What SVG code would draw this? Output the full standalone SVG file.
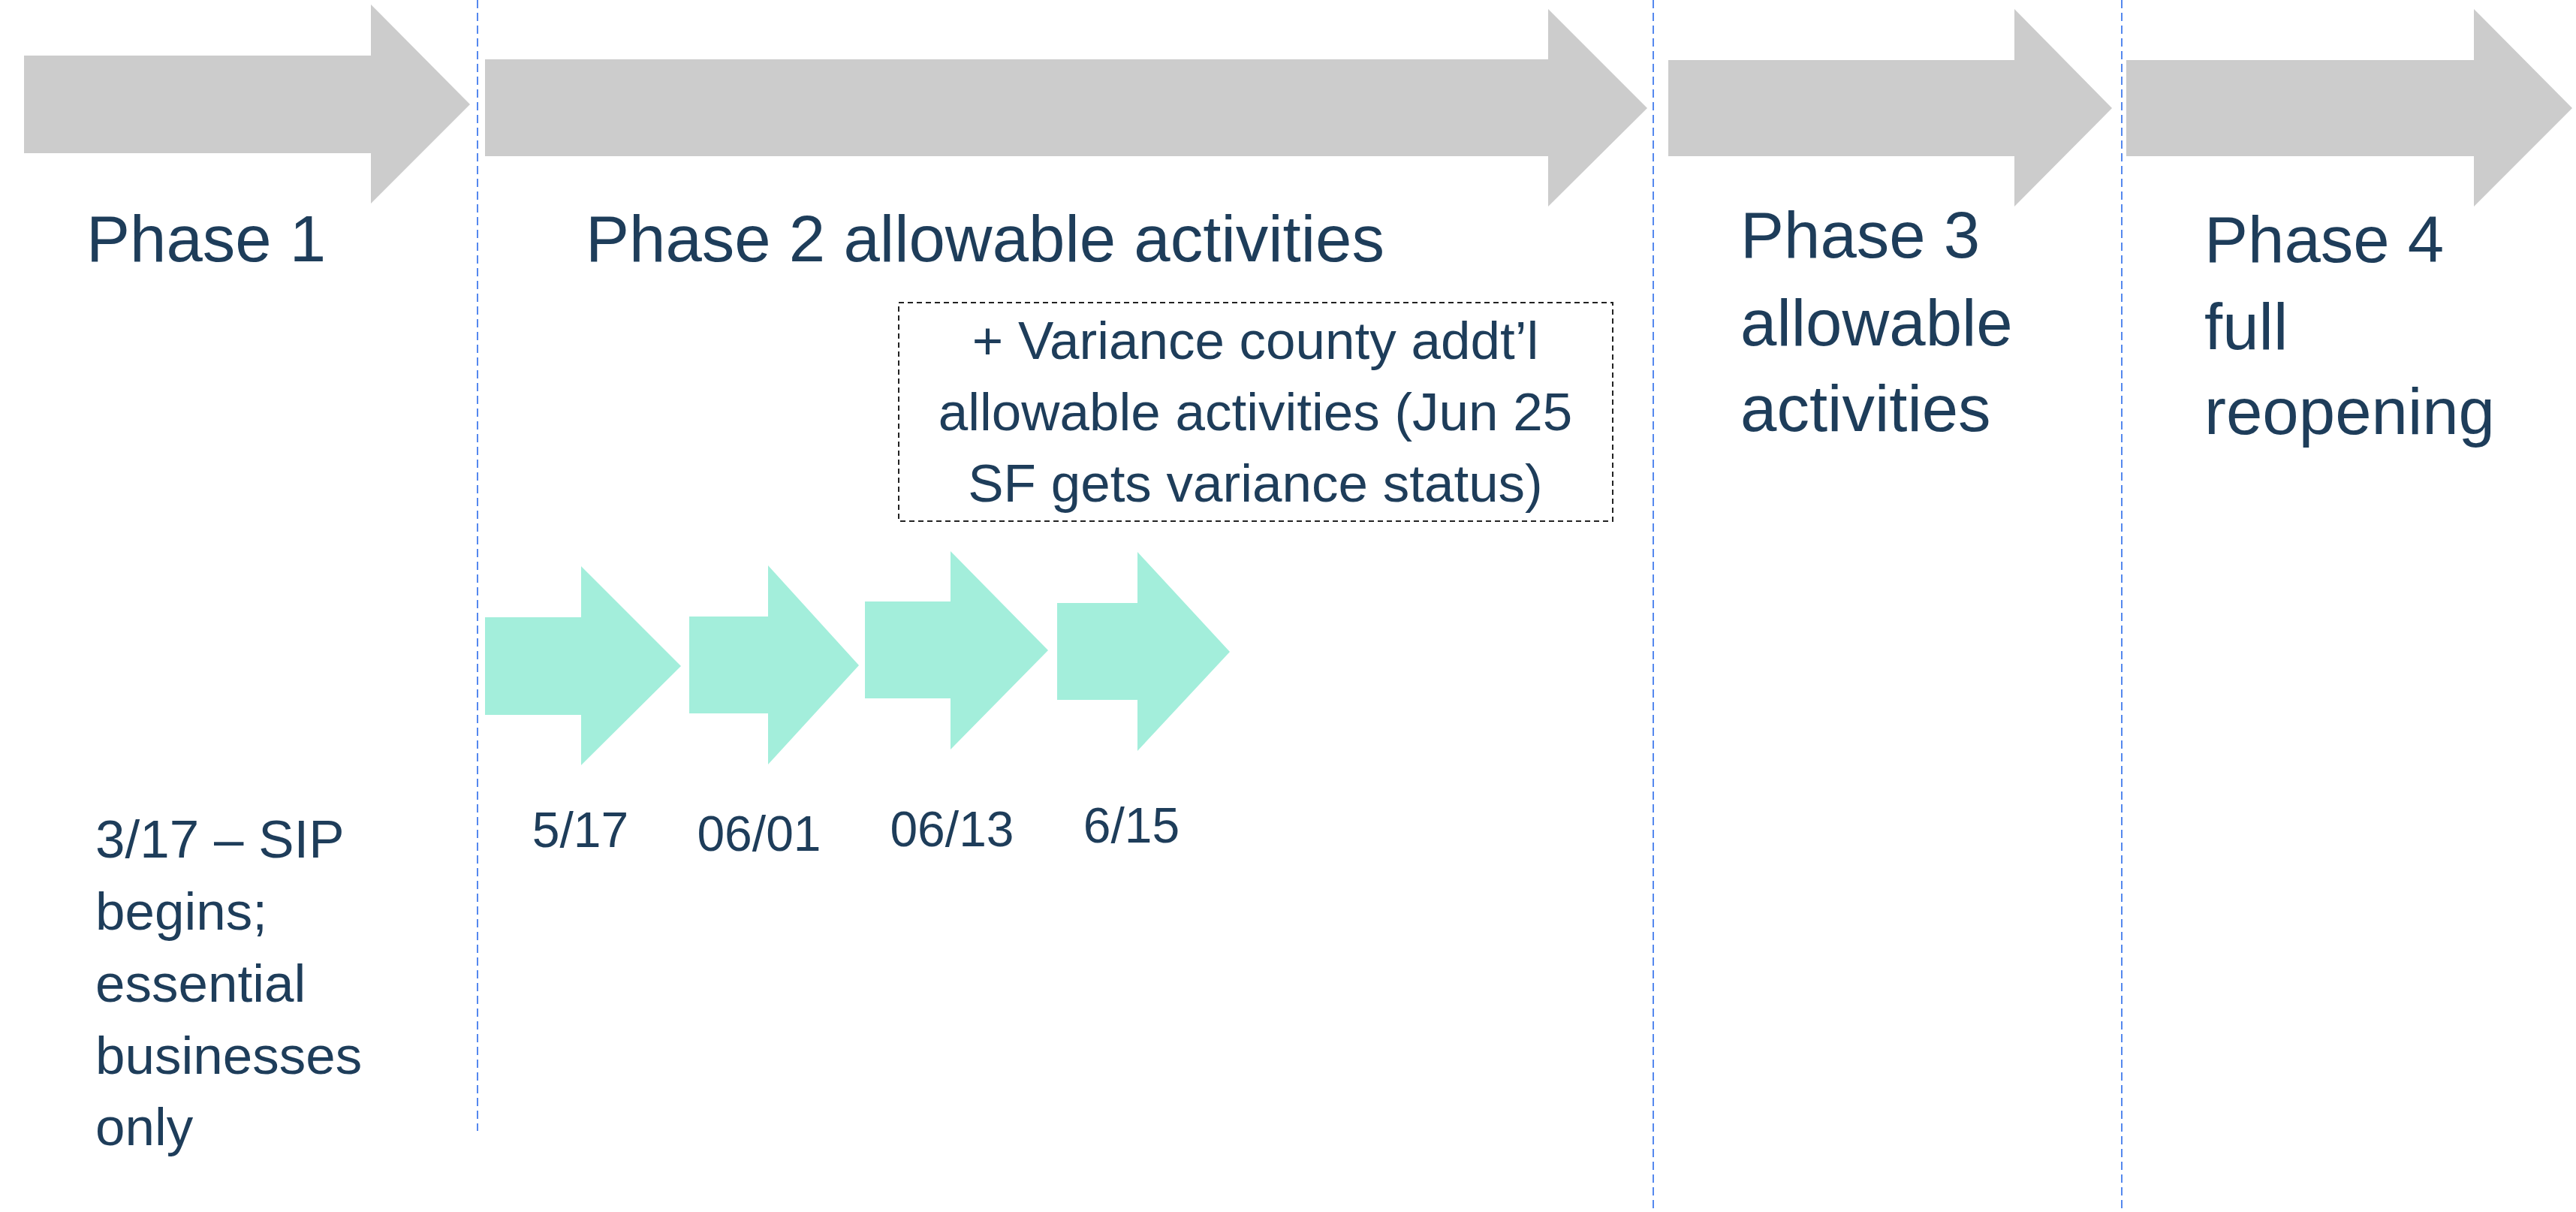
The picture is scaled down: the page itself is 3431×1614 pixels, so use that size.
<svg xmlns="http://www.w3.org/2000/svg" width="3431" height="1614" viewBox="0 0 3431 1614">
<style>
.big{font-family:"Liberation Sans",Arial,sans-serif;font-size:87px;fill:#1e3d5a}
.mid{font-family:"Liberation Sans",Arial,sans-serif;font-size:71px;fill:#1e3d5a}
.date{font-family:"Liberation Sans",Arial,sans-serif;font-size:66px;fill:#1e3d5a;text-anchor:middle}
.phase{fill:#cccccc}
.step{fill:#a3eedb}
.vline{stroke:#5588ee;stroke-width:2;stroke-dasharray:11 6;fill:none}
</style>
<rect width="3431" height="1614" fill="#ffffff"/>
<g id="dividers">
<line class="vline" x1="636" y1="0" x2="636" y2="1506"/>
<line class="vline" x1="2202" y1="0" x2="2202" y2="1614"/>
<line class="vline" x1="2826" y1="0" x2="2826" y2="1614"/>
</g>
<g id="phase1">
<polygon class="phase" points="32,74 494,74 494,6 626,139 494,271 494,204 32,204"/>
<text class="big" x="115" y="348">Phase 1</text>
</g>
<g id="phase2">
<polygon class="phase" points="646,79 2062,79 2062,12 2194,144 2062,275 2062,208 646,208"/>
<text class="big" x="780" y="348">Phase 2 allowable activities</text>
</g>
<g id="phase3">
<polygon class="phase" points="2222,80 2683,80 2683,12 2813,144 2683,275 2683,208 2222,208"/>
<text class="big" x="2318" y="343">Phase 3</text>
<text class="big" x="2318" y="460">allowable</text>
<text class="big" x="2318" y="574">activities</text>
</g>
<g id="phase4">
<polygon class="phase" points="2832,80 3295,80 3295,12 3426,144 3295,275 3295,208 2832,208"/>
<text class="big" x="2936" y="349">Phase 4</text>
<text class="big" x="2936" y="465">full</text>
<text class="big" x="2936" y="578">reopening</text>
</g>
<g id="variance">
<rect x="1197" y="403" width="951" height="291" fill="none" stroke="#222222" stroke-width="2" stroke-dasharray="7 5"/>
<text class="mid" x="1672" y="478" text-anchor="middle">+ Variance county addt’l</text>
<text class="mid" x="1672" y="573" text-anchor="middle">allowable activities (Jun 25</text>
<text class="mid" x="1672" y="668" text-anchor="middle">SF gets variance status)</text>
</g>
<g id="step1">
<polygon class="step" points="646,822 774,822 774,754 907,887 774,1019 774,952 646,952"/>
<text class="date" x="773" y="1128">5/17</text>
</g>
<g id="step2">
<polygon class="step" points="918,821 1023,821 1023,753 1144,886 1023,1018 1023,950 918,950"/>
<text class="date" x="1011" y="1133">06/01</text>
</g>
<g id="step3">
<polygon class="step" points="1152,801 1266,801 1266,734 1396,866 1266,998 1266,930 1152,930"/>
<text class="date" x="1268" y="1127">06/13</text>
</g>
<g id="step4">
<polygon class="step" points="1408,803 1515,803 1515,735 1638,868 1515,1000 1515,932 1408,932"/>
<text class="date" x="1507" y="1122">6/15</text>
</g>
<g id="phase1-note">
<text class="mid" x="127" y="1142">3/17 – SIP</text>
<text class="mid" x="127" y="1238">begins;</text>
<text class="mid" x="127" y="1334">essential</text>
<text class="mid" x="127" y="1430">businesses</text>
<text class="mid" x="127" y="1525">only</text>
</g>
<g id="connectors"></g>
</svg>
